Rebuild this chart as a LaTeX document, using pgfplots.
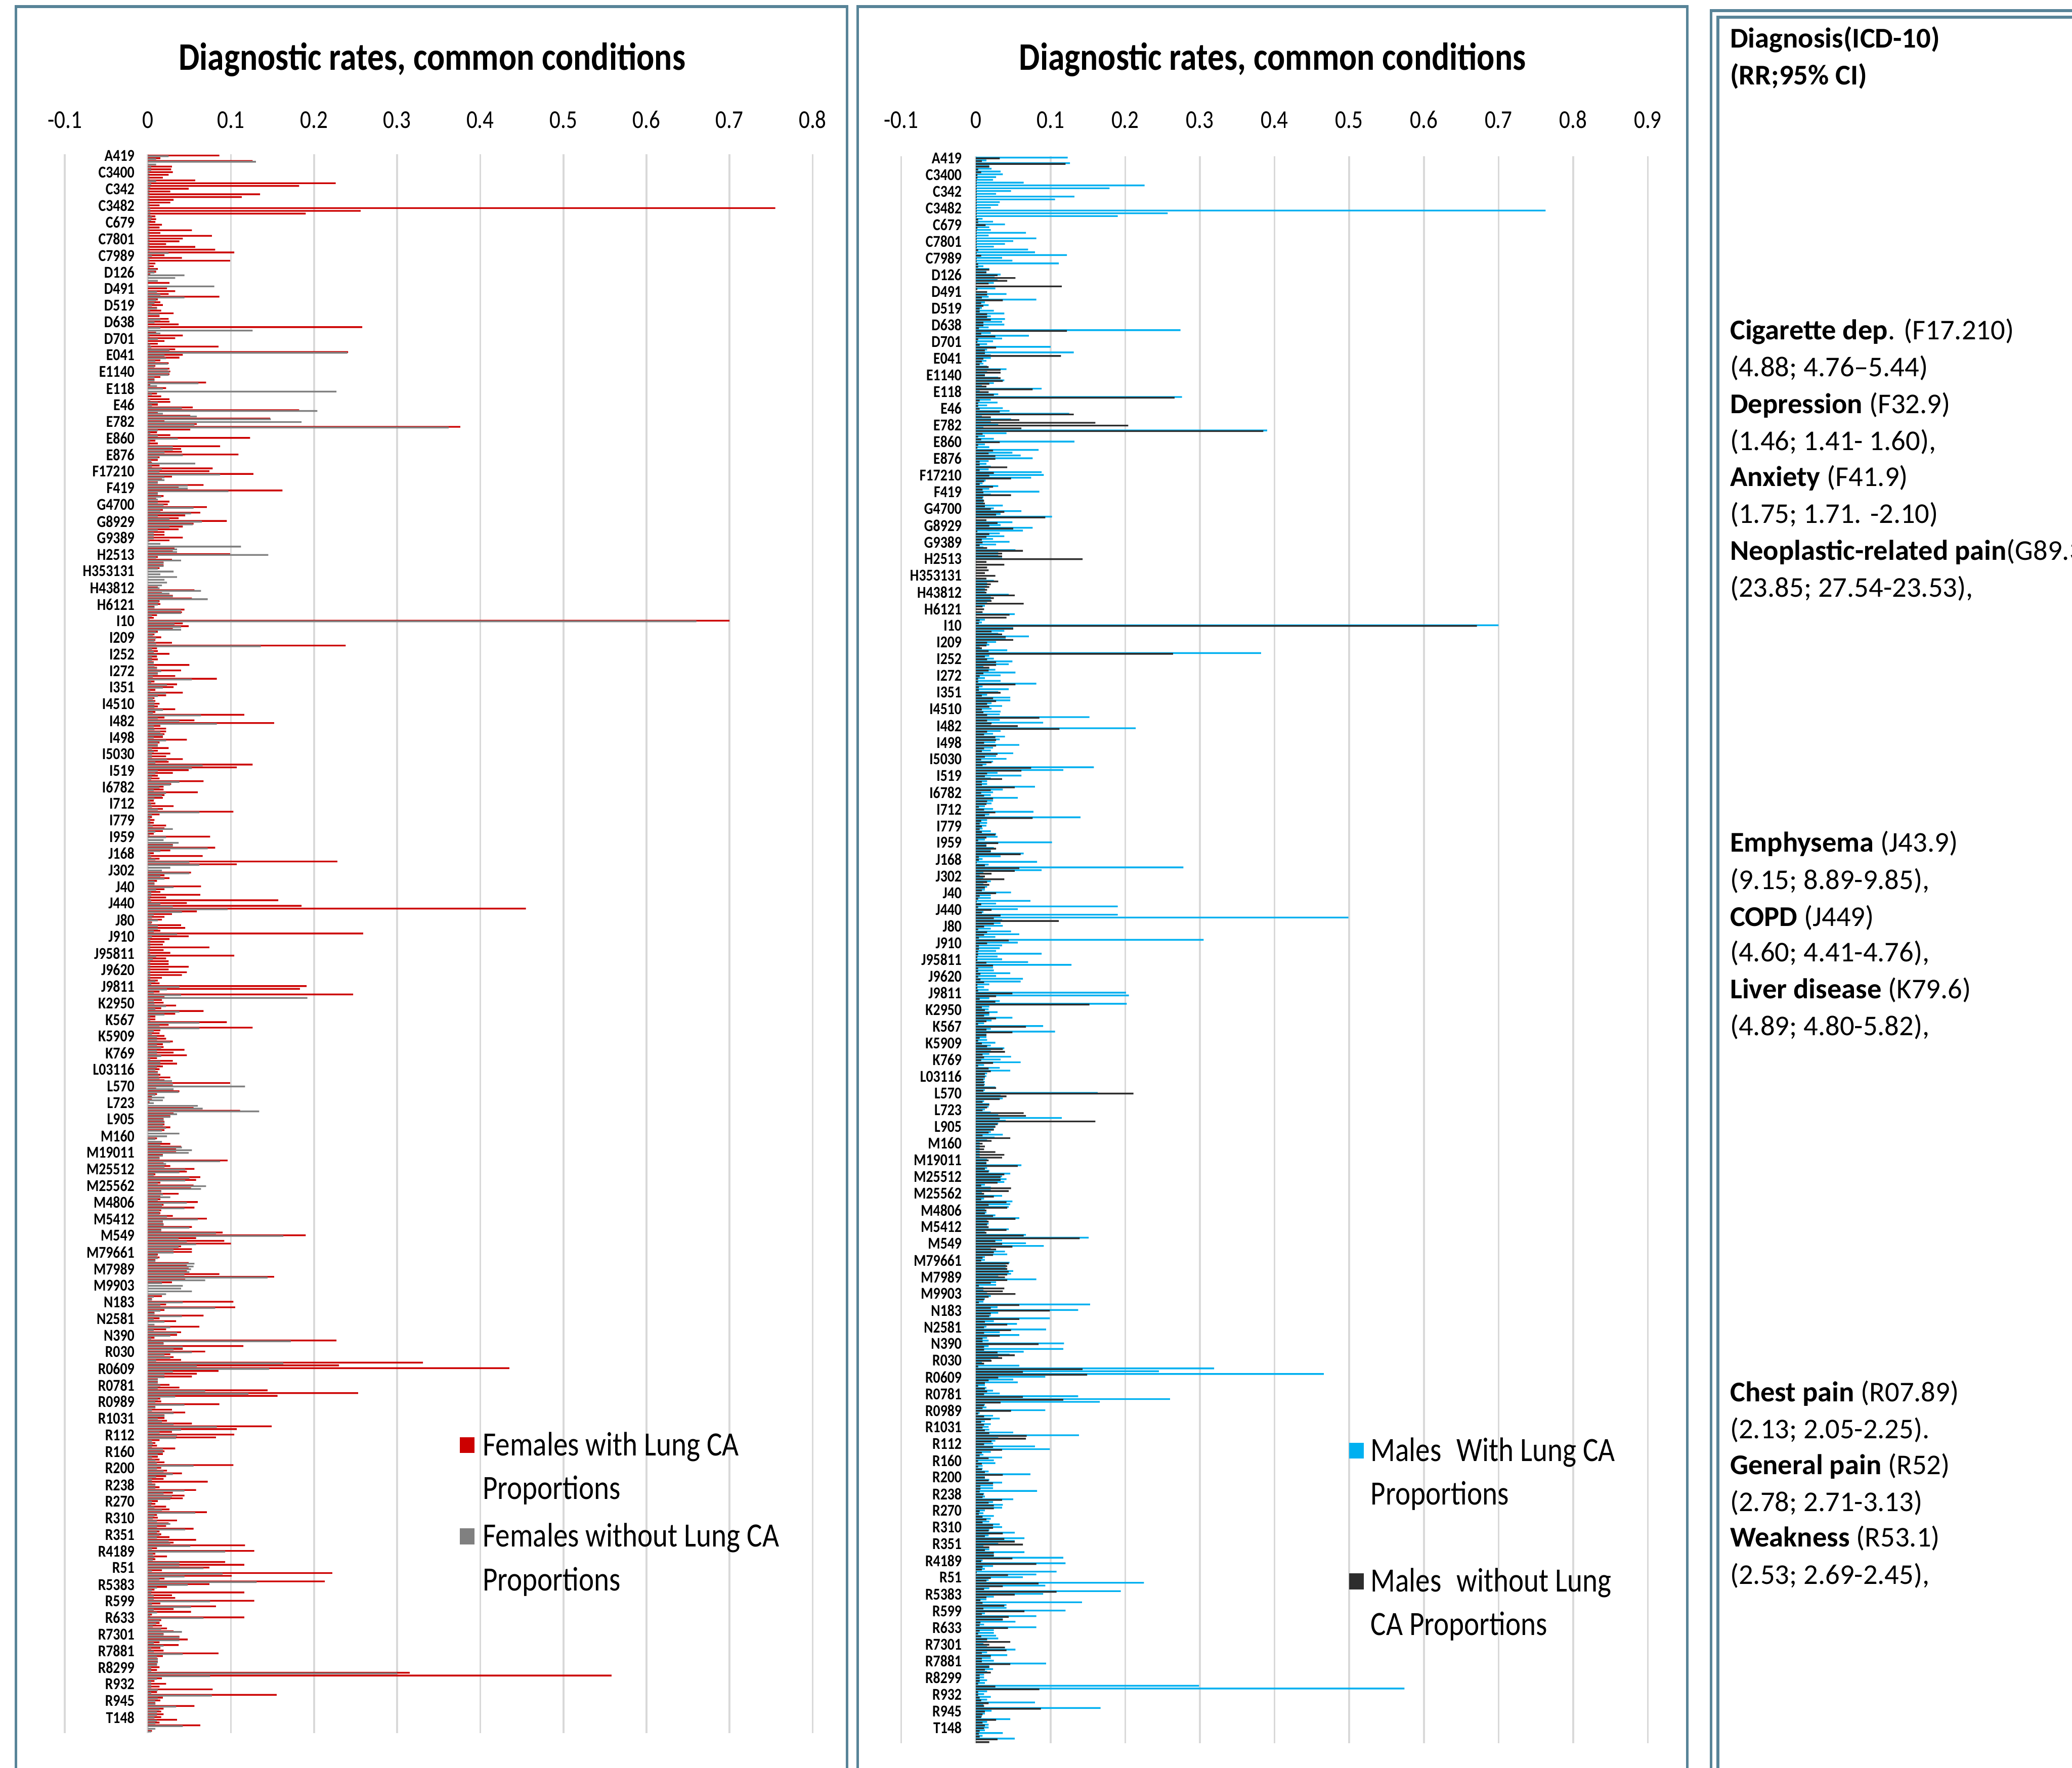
\documentclass[border=0pt]{standalone}
\usepackage{fontspec}
\setmainfont{Carlito}
\newfontfamily\cfont[FakeStretch=0.85]{Carlito}
\usepackage{pgfplots}
\usepackage{pgfplotstable}
\pgfplotsset{compat=1.18}
\definecolor{fcol}{RGB}{204,0,0}
\definecolor{gcol}{RGB}{128,128,128}
\definecolor{bcol}{RGB}{0,176,240}
\definecolor{kcol}{RGB}{45,45,45}
\definecolor{gridc}{RGB}{217,217,217}
\definecolor{framec}{RGB}{88,132,152}

\pgfplotstableread{
i a b
0 0.086 0.025
1 0.015 0.010
2 0.126 0.130
3 0.000 0.010
4 0.029 0.004
5 0.028 0.004
6 0.030 0.002
7 0.025 0.002
8 0.018 0.002
9 0.057 0.010
10 0.226 0.004
11 0.182 0.003
12 0.049 0.002
13 0.027 0.002
14 0.135 0.002
15 0.113 0.002
16 0.031 0.002
17 0.027 0.002
18 0.014 0.002
19 0.755 0.003
20 0.256 0.003
21 0.190 0.003
22 0.009 0.005
23 0.010 0.004
24 0.009 0.002
25 0.017 0.002
26 0.014 0.002
27 0.053 0.002
28 0.015 0.002
29 0.077 0.002
30 0.042 0.002
31 0.038 0.002
32 0.022 0.002
33 0.057 0.002
34 0.081 0.002
35 0.104 0.025
36 0.020 0.005
37 0.041 0.002
38 0.099 0.002
39 0.009 0.002
40 0.007 0.002
41 0.012 0.010
42 0.010 0.008
43 0.003 0.044
44 0.000 0.033
45 0.000 0.012
46 0.026 0.000
47 0.000 0.080
48 0.023 0.000
49 0.033 0.011
50 0.025 0.015
51 0.086 0.044
52 0.012 0.010
53 0.015 0.008
54 0.018 0.005
55 0.011 0.011
56 0.016 0.003
57 0.031 0.014
58 0.014 0.000
59 0.025 0.015
60 0.026 0.008
61 0.037 0.000
62 0.258 0.015
63 0.000 0.126
64 0.010 0.015
65 0.042 0.002
66 0.033 0.012
67 0.020 0.000
68 0.012 0.003
69 0.085 0.004
70 0.033 0.026
71 0.241 0.240
72 0.042 0.020
73 0.038 0.022
74 0.015 0.009
75 0.025 0.024
76 0.009 0.008
77 0.026 0.024
78 0.027 0.026
79 0.026 0.025
80 0.015 0.008
81 0.008 0.008
82 0.070 0.061
83 0.003 0.011
84 0.022 0.018
85 0.000 0.227
86 0.011 0.005
87 0.016 0.000
88 0.026 0.003
89 0.027 0.012
90 0.012 0.005
91 0.054 0.041
92 0.182 0.204
93 0.012 0.018
94 0.051 0.059
95 0.147 0.148
96 0.020 0.185
97 0.059 0.056
98 0.376 0.362
99 0.051 0.012
100 0.011 0.003
101 0.027 0.012
102 0.123 0.036
103 0.009 0.003
104 0.012 0.002
105 0.087 0.030
106 0.040 0.030
107 0.041 0.020
108 0.109 0.042
109 0.014 0.012
110 0.012 0.004
111 0.005 0.057
112 0.014 0.005
113 0.078 0.017
114 0.074 0.014
115 0.127 0.087
116 0.029 0.020
117 0.017 0.020
118 0.012 0.012
119 0.067 0.048
120 0.037 0.048
121 0.162 0.097
122 0.012 0.012
123 0.019 0.016
124 0.010 0.012
125 0.026 0.012
126 0.024 0.019
127 0.071 0.055
128 0.018 0.015
129 0.063 0.052
130 0.045 0.012
131 0.037 0.026
132 0.095 0.065
133 0.055 0.054
134 0.042 0.026
135 0.037 0.012
136 0.020 0.007
137 0.020 0.007
138 0.042 0.007
139 0.026 0.002
140 0.000 0.015
141 0.000 0.112
142 0.032 0.035
143 0.030 0.035
144 0.099 0.145
145 0.012 0.010
146 0.029 0.040
147 0.019 0.019
148 0.019 0.019
149 0.014 0.012
150 0.000 0.031
151 0.000 0.015
152 0.000 0.035
153 0.000 0.020
154 0.000 0.023
155 0.000 0.017
156 0.012 0.014
157 0.056 0.064
158 0.017 0.026
159 0.030 0.030
160 0.053 0.072
161 0.014 0.013
162 0.015 0.012
163 0.008 0.008
164 0.044 0.040
165 0.041 0.040
166 0.011 0.005
167 0.007 0.002
168 0.700 0.660
169 0.042 0.032
170 0.049 0.040
171 0.030 0.040
172 0.012 0.010
173 0.008 0.006
174 0.016 0.010
175 0.009 0.008
176 0.029 0.010
177 0.238 0.136
178 0.011 0.005
179 0.012 0.007
180 0.026 0.011
181 0.011 0.005
182 0.012 0.005
183 0.007 0.007
184 0.050 0.008
185 0.011 0.011
186 0.040 0.016
187 0.012 0.012
188 0.033 0.006
189 0.083 0.053
190 0.008 0.004
191 0.035 0.023
192 0.031 0.018
193 0.009 0.003
194 0.042 0.022
195 0.022 0.012
196 0.008 0.006
197 0.009 0.008
198 0.014 0.008
199 0.012 0.008
200 0.033 0.018
201 0.009 0.006
202 0.116 0.064
203 0.020 0.012
204 0.056 0.038
205 0.152 0.083
206 0.015 0.007
207 0.022 0.008
208 0.022 0.015
209 0.020 0.018
210 0.018 0.007
211 0.047 0.022
212 0.014 0.012
213 0.012 0.012
214 0.025 0.005
215 0.012 0.007
216 0.027 0.005
217 0.022 0.005
218 0.042 0.023
219 0.025 0.009
220 0.126 0.066
221 0.107 0.053
222 0.049 0.012
223 0.030 0.009
224 0.012 0.005
225 0.014 0.004
226 0.067 0.038
227 0.028 0.027
228 0.019 0.014
229 0.019 0.007
230 0.060 0.022
231 0.020 0.017
232 0.018 0.008
233 0.007 0.003
234 0.009 0.004
235 0.031 0.005
236 0.018 0.012
237 0.103 0.062
238 0.014 0.005
239 0.005 0.003
240 0.008 0.003
241 0.007 0.003
242 0.022 0.006
243 0.020 0.030
244 0.018 0.009
245 0.007 0.002
246 0.075 0.022
247 0.000 0.019
248 0.000 0.037
249 0.030 0.030
250 0.081 0.072
251 0.027 0.015
252 0.007 0.003
253 0.066 0.004
254 0.014 0.009
255 0.228 0.050
256 0.107 0.062
257 0.000 0.027
258 0.000 0.017
259 0.052 0.050
260 0.020 0.015
261 0.026 0.020
262 0.011 0.008
263 0.008 0.008
264 0.064 0.031
265 0.020 0.010
266 0.015 0.004
267 0.063 0.004
268 0.022 0.003
269 0.157 0.004
270 0.047 0.015
271 0.185 0.030
272 0.455 0.096
273 0.059 0.041
274 0.029 0.007
275 0.020 0.005
276 0.017 0.012
277 0.005 0.004
278 0.040 0.012
279 0.045 0.012
280 0.015 0.007
281 0.259 0.035
282 0.049 0.005
283 0.026 0.003
284 0.020 0.003
285 0.018 0.003
286 0.074 0.003
287 0.019 0.002
288 0.027 0.003
289 0.104 0.010
290 0.022 0.006
291 0.025 0.003
292 0.025 0.003
293 0.049 0.003
294 0.025 0.003
295 0.047 0.003
296 0.041 0.003
297 0.017 0.003
298 0.012 0.009
299 0.014 0.004
300 0.191 0.038
301 0.183 0.023
302 0.014 0.007
303 0.247 0.040
304 0.020 0.192
305 0.017 0.007
306 0.019 0.008
307 0.034 0.022
308 0.016 0.009
309 0.067 0.038
310 0.033 0.020
311 0.009 0.003
312 0.009 0.003
313 0.095 0.062
314 0.025 0.014
315 0.126 0.062
316 0.015 0.007
317 0.014 0.005
318 0.020 0.011
319 0.022 0.011
320 0.030 0.027
321 0.018 0.011
322 0.019 0.016
323 0.044 0.011
324 0.031 0.011
325 0.047 0.016
326 0.011 0.003
327 0.030 0.015
328 0.035 0.015
329 0.018 0.011
330 0.014 0.009
331 0.012 0.012
332 0.015 0.013
333 0.027 0.014
334 0.020 0.029
335 0.099 0.030
336 0.030 0.117
337 0.010 0.031
338 0.038 0.037
339 0.011 0.009
340 0.005 0.020
341 0.005 0.018
342 0.002 0.007
343 0.000 0.060
344 0.055 0.066
345 0.111 0.134
346 0.031 0.035
347 0.027 0.027
348 0.019 0.019
349 0.020 0.020
350 0.020 0.018
351 0.027 0.022
352 0.020 0.017
353 0.000 0.038
354 0.000 0.023
355 0.011 0.009
356 0.000 0.017
357 0.027 0.015
358 0.040 0.041
359 0.034 0.053
360 0.034 0.049
361 0.018 0.018
362 0.014 0.014
363 0.096 0.087
364 0.019 0.022
365 0.027 0.020
366 0.056 0.045
367 0.047 0.038
368 0.009 0.007
369 0.063 0.050
370 0.058 0.045
371 0.015 0.012
372 0.055 0.070
373 0.052 0.064
374 0.016 0.016
375 0.037 0.018
376 0.015 0.027
377 0.015 0.012
378 0.060 0.047
379 0.019 0.017
380 0.056 0.044
381 0.016 0.014
382 0.015 0.014
383 0.030 0.023
384 0.071 0.060
385 0.018 0.018
386 0.019 0.019
387 0.053 0.050
388 0.016 0.016
389 0.090 0.082
390 0.190 0.163
391 0.058 0.037
392 0.092 0.047
393 0.100 0.058
394 0.040 0.037
395 0.053 0.031
396 0.053 0.031
397 0.012 0.011
398 0.014 0.012
399 0.009 0.009
400 0.049 0.056
401 0.047 0.055
402 0.049 0.052
403 0.047 0.050
404 0.086 0.044
405 0.152 0.144
406 0.045 0.069
407 0.029 0.017
408 0.000 0.042
409 0.000 0.040
410 0.000 0.053
411 0.000 0.022
412 0.017 0.007
413 0.005 0.005
414 0.103 0.042
415 0.022 0.015
416 0.105 0.081
417 0.020 0.015
418 0.008 0.008
419 0.067 0.041
420 0.014 0.007
421 0.034 0.020
422 0.000 0.008
423 0.062 0.027
424 0.022 0.007
425 0.040 0.035
426 0.035 0.027
427 0.008 0.004
428 0.227 0.172
429 0.019 0.019
430 0.115 0.042
431 0.042 0.031
432 0.069 0.053
433 0.027 0.020
434 0.031 0.027
435 0.040 0.010
436 0.331 0.163
437 0.230 0.059
438 0.435 0.146
439 0.085 0.030
440 0.059 0.020
441 0.053 0.020
442 0.012 0.012
443 0.012 0.012
444 0.026 0.015
445 0.038 0.012
446 0.144 0.069
447 0.253 0.121
448 0.156 0.033
449 0.015 0.012
450 0.016 0.009
451 0.086 0.044
452 0.009 0.009
453 0.029 0.005
454 0.045 0.031
455 0.020 0.020
456 0.020 0.012
457 0.023 0.017
458 0.053 0.031
459 0.149 0.083
460 0.107 0.040
461 0.029 0.014
462 0.104 0.035
463 0.082 0.034
464 0.014 0.005
465 0.009 0.006
466 0.011 0.005
467 0.033 0.018
468 0.020 0.018
469 0.018 0.012
470 0.012 0.005
471 0.014 0.009
472 0.020 0.011
473 0.103 0.055
474 0.016 0.011
475 0.023 0.019
476 0.041 0.030
477 0.022 0.010
478 0.019 0.005
479 0.072 0.005
480 0.009 0.009
481 0.014 0.009
482 0.058 0.044
483 0.030 0.019
484 0.044 0.029
485 0.042 0.027
486 0.012 0.005
487 0.009 0.004
488 0.022 0.008
489 0.026 0.017
490 0.071 0.057
491 0.011 0.008
492 0.012 0.006
493 0.035 0.011
494 0.025 0.027
495 0.022 0.011
496 0.055 0.045
497 0.014 0.011
498 0.016 0.014
499 0.026 0.011
500 0.058 0.025
501 0.031 0.027
502 0.117 0.051
503 0.011 0.005
504 0.128 0.093
505 0.009 0.006
506 0.023 0.008
507 0.009 0.006
508 0.093 0.038
509 0.116 0.038
510 0.074 0.067
511 0.017 0.005
512 0.222 0.090
513 0.101 0.044
514 0.020 0.014
515 0.213 0.131
516 0.074 0.048
517 0.023 0.011
518 0.008 0.005
519 0.116 0.004
520 0.029 0.007
521 0.033 0.007
522 0.128 0.075
523 0.015 0.005
524 0.082 0.052
525 0.031 0.007
526 0.052 0.011
527 0.005 0.003
528 0.116 0.067
529 0.016 0.014
530 0.014 0.010
531 0.017 0.006
532 0.023 0.016
533 0.031 0.041
534 0.019 0.019
535 0.038 0.038
536 0.048 0.038
537 0.014 0.007
538 0.037 0.019
539 0.015 0.004
540 0.019 0.007
541 0.085 0.042
542 0.018 0.011
543 0.012 0.012
544 0.012 0.012
545 0.011 0.011
546 0.014 0.004
547 0.011 0.004
548 0.315 0.300
549 0.558 0.075
550 0.017 0.011
551 0.008 0.004
552 0.022 0.004
553 0.014 0.004
554 0.078 0.012
555 0.011 0.004
556 0.155 0.077
557 0.018 0.012
558 0.015 0.009
559 0.009 0.009
560 0.056 0.034
561 0.019 0.014
562 0.016 0.011
563 0.019 0.011
564 0.016 0.008
565 0.035 0.011
566 0.014 0.009
567 0.063 0.042
568 0.000 0.009
569 0.005 0.004
}\femtab

\pgfplotstableread{
i a b
0 0.123 0.032
1 0.014 0.008
2 0.126 0.120
3 0.018 0.018
4 0.021 0.003
5 0.033 0.007
6 0.036 0.002
7 0.027 0.002
8 0.023 0.001
9 0.064 0.001
10 0.226 0.001
11 0.179 0.001
12 0.047 0.001
13 0.027 0.001
14 0.132 0.001
15 0.106 0.001
16 0.032 0.001
17 0.030 0.001
18 0.020 0.001
19 0.763 0.001
20 0.257 0.001
21 0.190 0.001
22 0.009 0.003
23 0.023 0.003
24 0.039 0.013
25 0.018 0.002
26 0.020 0.001
27 0.067 0.001
28 0.017 0.001
29 0.081 0.001
30 0.050 0.001
31 0.039 0.001
32 0.024 0.001
33 0.070 0.003
34 0.079 0.001
35 0.122 0.007
36 0.035 0.001
37 0.049 0.001
38 0.111 0.003
39 0.010 0.003
40 0.018 0.018
41 0.014 0.014
42 0.033 0.029
43 0.025 0.053
44 0.029 0.042
45 0.024 0.017
46 0.000 0.115
47 0.026 0.002
48 0.000 0.015
49 0.041 0.015
50 0.017 0.008
51 0.081 0.036
52 0.012 0.007
53 0.017 0.010
54 0.008 0.005
55 0.024 0.005
56 0.038 0.015
57 0.020 0.015
58 0.039 0.020
59 0.035 0.010
60 0.038 0.010
61 0.017 0.004
62 0.274 0.122
63 0.020 0.007
64 0.071 0.026
65 0.035 0.003
66 0.023 0.002
67 0.015 0.005
68 0.100 0.027
69 0.015 0.012
70 0.131 0.012
71 0.020 0.114
72 0.020 0.010
73 0.014 0.008
74 0.010 0.005
75 0.015 0.017
76 0.041 0.033
77 0.015 0.033
78 0.012 0.012
79 0.030 0.033
80 0.038 0.036
81 0.024 0.018
82 0.008 0.014
83 0.088 0.076
84 0.005 0.017
85 0.030 0.024
86 0.276 0.266
87 0.020 0.005
88 0.029 0.003
89 0.015 0.003
90 0.036 0.005
91 0.045 0.032
92 0.125 0.131
93 0.008 0.020
94 0.047 0.058
95 0.020 0.160
96 0.030 0.204
97 0.010 0.061
98 0.390 0.385
99 0.041 0.009
100 0.012 0.003
101 0.024 0.007
102 0.132 0.032
103 0.012 0.003
104 0.018 0.002
105 0.084 0.023
106 0.049 0.017
107 0.060 0.026
108 0.076 0.026
109 0.017 0.005
110 0.014 0.005
111 0.020 0.042
112 0.017 0.005
113 0.088 0.024
114 0.091 0.018
115 0.074 0.047
116 0.013 0.011
117 0.009 0.005
118 0.030 0.023
119 0.018 0.009
120 0.085 0.010
121 0.020 0.047
122 0.010 0.009
123 0.010 0.011
124 0.010 0.012
125 0.036 0.012
126 0.024 0.020
127 0.061 0.038
128 0.033 0.027
129 0.102 0.093
130 0.000 0.014
131 0.049 0.029
132 0.033 0.018
133 0.076 0.050
134 0.063 0.002
135 0.032 0.018
136 0.038 0.014
137 0.023 0.008
138 0.045 0.009
139 0.027 0.005
140 0.010 0.015
141 0.053 0.063
142 0.030 0.035
143 0.030 0.035
144 0.035 0.143
145 0.000 0.014
146 0.000 0.038
147 0.000 0.015
148 0.000 0.017
149 0.000 0.012
150 0.000 0.026
151 0.000 0.014
152 0.024 0.030
153 0.015 0.020
154 0.015 0.018
155 0.012 0.015
156 0.012 0.014
157 0.044 0.052
158 0.020 0.024
159 0.020 0.021
160 0.015 0.064
161 0.012 0.009
162 0.000 0.011
163 0.000 0.009
164 0.052 0.045
165 0.000 0.041
166 0.012 0.005
167 0.008 0.004
168 0.700 0.671
169 0.050 0.050
170 0.038 0.021
171 0.030 0.035
172 0.071 0.040
173 0.040 0.050
174 0.027 0.015
175 0.018 0.014
176 0.005 0.008
177 0.042 0.017
178 0.382 0.264
179 0.018 0.012
180 0.024 0.015
181 0.049 0.027
182 0.044 0.027
183 0.010 0.018
184 0.026 0.017
185 0.053 0.010
186 0.033 0.005
187 0.012 0.003
188 0.033 0.003
189 0.081 0.053
190 0.009 0.004
191 0.044 0.004
192 0.030 0.033
193 0.015 0.008
194 0.046 0.023
195 0.046 0.027
196 0.021 0.015
197 0.035 0.018
198 0.021 0.008
199 0.033 0.010
200 0.032 0.015
201 0.152 0.085
202 0.032 0.015
203 0.090 0.021
204 0.020 0.056
205 0.214 0.112
206 0.033 0.015
207 0.023 0.011
208 0.039 0.026
209 0.032 0.027
210 0.026 0.011
211 0.058 0.027
212 0.023 0.011
213 0.020 0.008
214 0.050 0.029
215 0.027 0.012
216 0.041 0.007
217 0.023 0.021
218 0.014 0.009
219 0.158 0.074
220 0.117 0.061
221 0.029 0.015
222 0.061 0.012
223 0.020 0.035
224 0.015 0.008
225 0.015 0.008
226 0.079 0.052
227 0.036 0.020
228 0.023 0.007
229 0.020 0.011
230 0.056 0.023
231 0.023 0.015
232 0.021 0.014
233 0.012 0.004
234 0.023 0.011
235 0.077 0.026
236 0.018 0.012
237 0.140 0.076
238 0.015 0.007
239 0.015 0.005
240 0.014 0.008
241 0.009 0.005
242 0.020 0.008
243 0.027 0.026
244 0.029 0.014
245 0.012 0.003
246 0.102 0.030
247 0.014 0.014
248 0.024 0.027
249 0.020 0.020
250 0.064 0.060
251 0.033 0.004
252 0.009 0.004
253 0.082 0.001
254 0.017 0.012
255 0.278 0.058
256 0.088 0.052
257 0.010 0.021
258 0.005 0.012
259 0.010 0.038
260 0.020 0.015
261 0.010 0.018
262 0.015 0.012
263 0.012 0.008
264 0.047 0.027
265 0.020 0.005
266 0.020 0.003
267 0.073 0.001
268 0.027 0.007
269 0.190 0.003
270 0.056 0.021
271 0.010 0.008
272 0.190 0.033
273 0.499 0.024
274 0.035 0.111
275 0.033 0.024
276 0.036 0.011
277 0.020 0.003
278 0.047 0.015
279 0.058 0.011
280 0.026 0.004
281 0.305 0.044
282 0.056 0.015
283 0.035 0.004
284 0.032 0.004
285 0.027 0.003
286 0.088 0.003
287 0.029 0.002
288 0.035 0.002
289 0.070 0.014
290 0.128 0.023
291 0.023 0.003
292 0.024 0.003
293 0.046 0.006
294 0.027 0.003
295 0.063 0.006
296 0.060 0.011
297 0.018 0.002
298 0.011 0.002
299 0.017 0.003
300 0.201 0.049
301 0.205 0.027
302 0.018 0.005
303 0.032 0.026
304 0.202 0.152
305 0.018 0.008
306 0.017 0.012
307 0.029 0.018
308 0.018 0.011
309 0.049 0.027
310 0.021 0.014
311 0.011 0.003
312 0.090 0.067
313 0.020 0.014
314 0.106 0.049
315 0.014 0.014
316 0.014 0.005
317 0.015 0.003
318 0.026 0.008
319 0.020 0.015
320 0.038 0.036
321 0.020 0.039
322 0.018 0.009
323 0.047 0.011
324 0.033 0.007
325 0.060 0.023
326 0.011 0.003
327 0.032 0.017
328 0.046 0.020
329 0.015 0.012
330 0.014 0.012
331 0.012 0.010
332 0.012 0.011
333 0.012 0.011
334 0.026 0.027
335 0.012 0.010
336 0.163 0.211
337 0.033 0.041
338 0.036 0.032
339 0.011 0.009
340 0.018 0.018
341 0.017 0.015
342 0.012 0.009
343 0.020 0.064
344 0.030 0.067
345 0.115 0.032
346 0.040 0.160
347 0.030 0.029
348 0.026 0.026
349 0.024 0.024
350 0.020 0.017
351 0.036 0.009
352 0.025 0.046
353 0.015 0.021
354 0.005 0.009
355 0.005 0.012
356 0.005 0.011
357 0.005 0.026
358 0.005 0.038
359 0.005 0.035
360 0.015 0.017
361 0.014 0.014
362 0.061 0.056
363 0.015 0.012
364 0.018 0.017
365 0.046 0.038
366 0.035 0.033
367 0.041 0.033
368 0.038 0.029
369 0.012 0.007
370 0.020 0.047
371 0.020 0.044
372 0.008 0.011
373 0.035 0.024
374 0.011 0.007
375 0.049 0.041
376 0.046 0.017
377 0.044 0.042
378 0.012 0.014
379 0.014 0.012
380 0.026 0.023
381 0.058 0.053
382 0.015 0.017
383 0.017 0.015
384 0.015 0.017
385 0.044 0.041
386 0.012 0.014
387 0.067 0.064
388 0.151 0.139
389 0.035 0.026
390 0.067 0.035
391 0.091 0.049
392 0.020 0.027
393 0.039 0.024
394 0.042 0.023
395 0.012 0.009
396 0.012 0.007
397 0.045 0.044
398 0.040 0.042
399 0.040 0.042
400 0.050 0.044
401 0.047 0.042
402 0.030 0.039
403 0.081 0.042
404 0.027 0.020
405 0.027 0.004
406 0.010 0.038
407 0.010 0.036
408 0.015 0.053
409 0.020 0.017
410 0.012 0.011
411 0.010 0.004
412 0.153 0.058
413 0.029 0.020
414 0.137 0.099
415 0.030 0.020
416 0.020 0.018
417 0.099 0.058
418 0.024 0.012
419 0.055 0.042
420 0.014 0.011
421 0.094 0.047
422 0.032 0.011
423 0.058 0.032
424 0.015 0.009
425 0.017 0.009
426 0.118 0.084
427 0.017 0.011
428 0.117 0.011
429 0.064 0.029
430 0.045 0.052
431 0.030 0.035
432 0.020 0.021
433 0.008 0.011
434 0.058 0.003
435 0.319 0.143
436 0.245 0.063
437 0.466 0.149
438 0.093 0.030
439 0.050 0.017
440 0.056 0.012
441 0.012 0.003
442 0.014 0.012
443 0.023 0.015
444 0.032 0.011
445 0.137 0.063
446 0.260 0.117
447 0.166 0.033
448 0.012 0.011
449 0.014 0.009
450 0.093 0.047
451 0.005 0.003
452 0.023 0.011
453 0.032 0.020
454 0.012 0.007
455 0.020 0.011
456 0.017 0.009
457 0.018 0.012
458 0.050 0.018
459 0.138 0.068
460 0.030 0.067
461 0.026 0.021
462 0.023 0.011
463 0.079 0.023
464 0.099 0.035
465 0.020 0.008
466 0.010 0.005
467 0.035 0.017
468 0.024 0.003
469 0.026 0.008
470 0.009 0.003
471 0.009 0.008
472 0.017 0.012
473 0.073 0.036
474 0.012 0.012
475 0.018 0.017
476 0.035 0.023
477 0.023 0.006
478 0.023 0.006
479 0.082 0.005
480 0.011 0.010
481 0.012 0.009
482 0.050 0.035
483 0.023 0.017
484 0.036 0.024
485 0.035 0.024
486 0.012 0.005
487 0.010 0.004
488 0.024 0.009
489 0.020 0.014
490 0.018 0.009
491 0.032 0.023
492 0.035 0.023
493 0.018 0.017
494 0.052 0.036
495 0.017 0.012
496 0.065 0.038
497 0.052 0.052
498 0.030 0.063
499 0.010 0.018
500 0.018 0.012
501 0.065 0.024
502 0.024 0.024
503 0.117 0.049
504 0.009 0.007
505 0.120 0.081
506 0.023 0.009
507 0.012 0.008
508 0.108 0.001
509 0.081 0.043
510 0.063 0.020
511 0.017 0.014
512 0.225 0.084
513 0.093 0.036
514 0.018 0.011
515 0.194 0.108
516 0.090 0.052
517 0.024 0.014
518 0.014 0.006
519 0.142 0.009
520 0.041 0.038
521 0.041 0.010
522 0.120 0.065
523 0.012 0.008
524 0.081 0.044
525 0.036 0.036
526 0.053 0.006
527 0.011 0.005
528 0.081 0.043
529 0.024 0.005
530 0.024 0.003
531 0.027 0.007
532 0.030 0.015
533 0.015 0.046
534 0.010 0.018
535 0.015 0.039
536 0.053 0.041
537 0.015 0.008
538 0.042 0.020
539 0.020 0.008
540 0.024 0.008
541 0.094 0.046
542 0.018 0.018
543 0.023 0.012
544 0.015 0.020
545 0.011 0.005
546 0.011 0.005
547 0.015 0.005
548 0.012 0.003
549 0.299 0.026
550 0.574 0.085
551 0.015 0.003
552 0.011 0.003
553 0.020 0.005
554 0.015 0.007
555 0.079 0.017
556 0.010 0.011
557 0.167 0.087
558 0.021 0.012
559 0.012 0.009
560 0.008 0.007
561 0.046 0.027
562 0.015 0.009
563 0.017 0.012
564 0.017 0.011
565 0.012 0.005
566 0.036 0.004
567 0.009 0.005
568 0.052 0.029
569 0.000 0.018
}\maletab

\pgfplotsset{
  catlabels/.style={yticklabels={A419,C3400,C342,C3482,C679,C7801,C7989,D126,D491,D519,D638,D701,E041,E1140,E118,E46,E782,E860,E876,F17210,F419,G4700,G8929,G9389,H2513,H353131,H43812,H6121,I10,I209,I252,I272,I351,I4510,I482,I498,I5030,I519,I6782,I712,I779,I959,J168,J302,J40,J440,J80,J910,J95811,J9620,J9811,K2950,K567,K5909,K769,L03116,L570,L723,L905,M160,M19011,M25512,M25562,M4806,M5412,M549,M79661,M7989,M9903,N183,N2581,N390,R030,R0609,R0781,R0989,R1031,R112,R160,R200,R238,R270,R310,R351,R4189,R51,R5383,R599,R633,R7301,R7881,R8299,R932,R945,T148}},
  dxstyle/.style={
    scale only axis, anchor=north west,
    y dir=reverse, ymin=-0.6, ymax=569.6,
    axis line style={draw=none},
    tick style={draw=none},
    major tick length=0pt,
    xmajorgrids, grid style={gridc, line width=0.35mm},
    ytick={0,6,...,564}, catlabels,
    xticklabel pos=upper,
    xticklabel style={font=\cfont\fontsize{13.8}{14}\selectfont, anchor=base, inner sep=0pt},
    yticklabel style={font=\cfont\bfseries\fontsize{8.9}{9}\selectfont, anchor=east, inner sep=0pt},
  }
}

\begin{document}
\begin{tikzpicture}
\path[use as bounding box] (0,0) rectangle (392mm,-334.5mm);

% left chart
\begin{axis}[dxstyle,
  at={(12.25mm,-29.175mm)}, width=141.5mm, height=298.75mm,
  xmin=-0.1, xmax=0.8,
  xtick={-0.1,0,0.1,0.2,0.3,0.4,0.5,0.6,0.7,0.8},
  xticklabels={-0.1,0,0.1,0.2,0.3,0.4,0.5,0.6,0.7,0.8},
  xticklabel style={yshift=4.9mm},
  yticklabel style={xshift=13.25mm},
]
\addplot[xbar, fill=fcol, draw=none, bar width=0.62, bar shift=-0.13] table[x=a, y=i] {\femtab};
\addplot[xbar, fill=gcol, draw=none, bar width=0.62, bar shift=0.13] table[x=b, y=i] {\femtab};
\end{axis}

% middle chart
\begin{axis}[dxstyle,
  at={(170.5mm,-29.575mm)}, width=141.25mm, height=300.35mm,
  xmin=-0.1, xmax=0.9,
  xtick={-0.1,0,0.1,0.2,0.3,0.4,0.5,0.6,0.7,0.8,0.9},
  xticklabels={-0.1,0,0.1,0.2,0.3,0.4,0.5,0.6,0.7,0.8,0.9},
  xticklabel style={yshift=5.3mm},
  yticklabel style={xshift=11.5mm},
]
\addplot[xbar, fill=bcol, draw=none, bar width=0.62, bar shift=-0.13] table[x=a, y=i] {\maletab};
\addplot[xbar, fill=kcol, draw=none, bar width=0.62, bar shift=0.13] table[x=b, y=i] {\maletab};
\end{axis}

\begin{scope}[x=0.25mm, y=-0.25mm]
  % frames
  \draw[framec, line width=0.5mm] (12,1400) -- (12,5) -- (641,5) -- (641,1400);
  \draw[framec, line width=0.5mm] (649,1400) -- (649,5) -- (1277,5) -- (1277,1400);
  \draw[framec, line width=0.5mm] (1295,1400) -- (1295,8) -- (1600,8);
  \draw[framec, line width=0.5mm] (1300,1400) -- (1300,13) -- (1600,13);
  % titles
  \node[font=\cfont\bfseries\fontsize{21}{24}\selectfont, anchor=base, inner sep=0pt] at (327,53) {Diagnostic rates, common conditions};
  \node[font=\cfont\bfseries\fontsize{21}{24}\selectfont, anchor=base, inner sep=0pt] at (963,53) {Diagnostic rates, common conditions};
  % legends
  \fill[fcol] (348,1088) rectangle (359,1100);
  \fill[gcol] (348,1157) rectangle (359,1169);
  \fill[bcol] (1021,1092) rectangle (1032,1104);
  \fill[kcol] (1021,1191) rectangle (1032,1203);
  \begin{scope}[every node/.style={font=\cfont\fontsize{18.3}{20}\selectfont, anchor=base west, inner sep=0pt}]
    \node at (365,1102) {Females with Lung CA};
    \node at (365,1135) {Proportions};
    \node at (365,1171) {Females without Lung CA};
    \node at (365,1204) {Proportions};
    \node at (1037,1106) {Males\hspace{0.25em} With Lung CA};
    \node at (1037,1139) {Proportions};
    \node at (1037,1205) {Males\hspace{0.25em} without Lung};
    \node at (1037,1238) {CA Proportions};
  \end{scope}
  % right panel text
  \begin{scope}[every node/.style={font=\fontsize{15.4}{19}\selectfont, anchor=base west, inner sep=0pt}]
    \node at (1309,36) {\textbf{Diagnosis(ICD-10)}};
    \node at (1309,64) {\textbf{(RR;95\% CI)}};
    \node at (1309,257) {\textbf{Cigarette dep}. (F17.210)};
    \node at (1309,285) {(4.88; 4.76–5.44)};
    \node at (1309,313) {\textbf{Depression} (F32.9)};
    \node at (1309,341) {(1.46; 1.41- 1.60),};
    \node at (1309,368) {\textbf{Anxiety} (F41.9)};
    \node at (1309,396) {(1.75; 1.71. -2.10)};
    \node at (1309,424) {\textbf{Neoplastic-related pain}(G89.3};
    \node at (1309,452) {(23.85; 27.54-23.53),};
    \node at (1309,645) {\textbf{Emphysema} (J43.9)};
    \node at (1309,673) {(9.15; 8.89-9.85),};
    \node at (1309,701) {\textbf{COPD} (J449)};
    \node at (1309,728) {(4.60; 4.41-4.76),};
    \node at (1309,756) {\textbf{Liver disease} (K79.6)};
    \node at (1309,784) {(4.89; 4.80-5.82),};
    \node at (1309,1061) {\textbf{Chest pain} (R07.89)};
    \node at (1309,1089) {(2.13; 2.05-2.25).};
    \node at (1309,1116) {\textbf{General pain} (R52)};
    \node at (1309,1144) {(2.78; 2.71-3.13)};
    \node at (1309,1171) {\textbf{Weakness} (R53.1)};
    \node at (1309,1199) {(2.53; 2.69-2.45),};
  \end{scope}
\end{scope}
\end{tikzpicture}
\end{document}
